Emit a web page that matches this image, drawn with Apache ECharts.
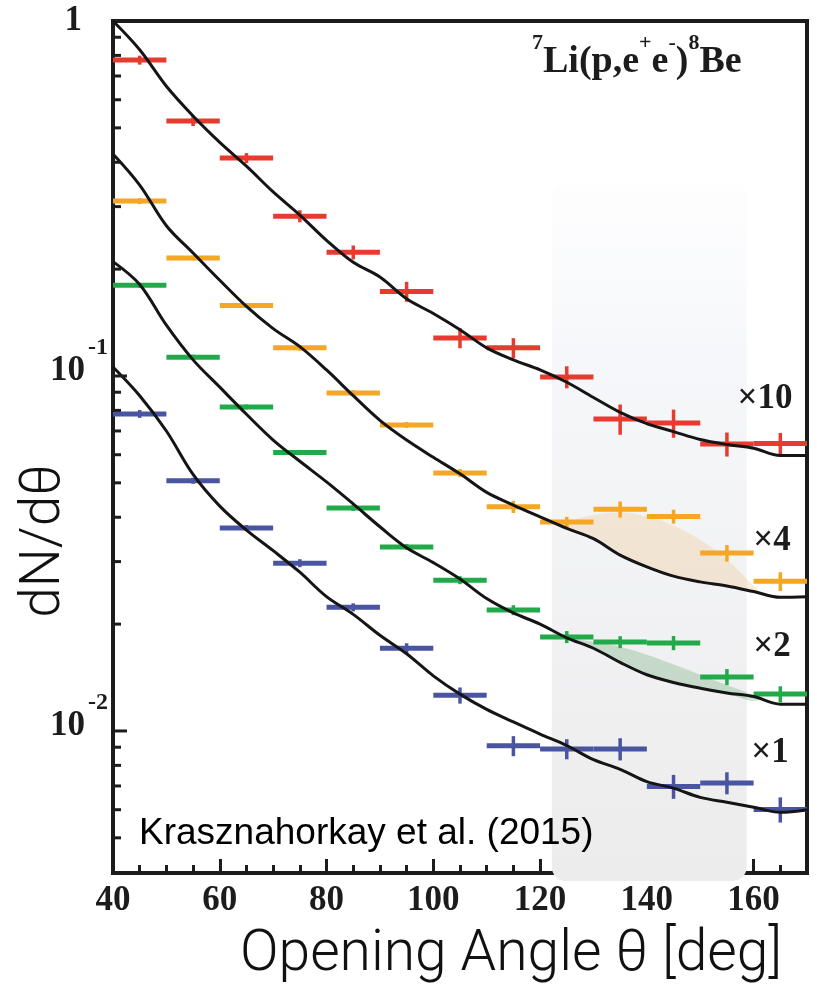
<!DOCTYPE html>
<html>
<head>
<meta charset="utf-8">
<script src="https://cdn.jsdelivr.net/npm/echarts@6/dist/echarts.min.js"></script>
<style>
html, body { margin: 0; padding: 0; background: #fff; }
#chart { width: 817px; height: 985px; }
</style>
</head>
<body>
<div id="chart"></div>
<script>
// bins (deg) and measured points, already scaled x10 / x4 / x2 / x1
var binCenters = [45, 55, 65, 75, 85, 95, 105, 115, 125, 135, 145, 155, 165];
var binHalfWidth = 5;

var redVals = [0.776, 0.523, 0.411, 0.282, 0.223, 0.173, 0.128, 0.120, 0.0994, 0.0757, 0.0737, 0.0643, 0.0645];
var redErr = [0.0227, 0.017, 0.0134, 0.011, 0.0101, 0.0112, 0.0083, 0.0078, 0.0071, 0.0074, 0.0067, 0.005, 0.0046];
var orangeVals = [0.311, 0.215, 0.158, 0.120, 0.0895, 0.0728, 0.0533, 0.0428, 0.0388, 0.0421, 0.0402, 0.0317, 0.0264];
var orangeErr = [0.0061, 0.0035, 0.0026, 0.0023, 0.0017, 0.0014, 0.0014, 0.0017, 0.0013, 0.0022, 0.0018, 0.0017, 0.0016];
var greenVals = [0.180, 0.113, 0.0818, 0.0609, 0.0425, 0.0330, 0.0266, 0.0219, 0.0184, 0.0178, 0.0177, 0.0142, 0.0127];
var greenErr = [0.0029, 0.0018, 0.0013, 0.001, 0.00083, 0.00064, 0.00069, 0.00071, 0.00072, 0.00069, 0.00081, 0.00074, 0.00066];
var blueVals = [0.0782, 0.0507, 0.0373, 0.0297, 0.0223, 0.0171, 0.0126, 0.00908, 0.0089, 0.0089, 0.00698, 0.00714, 0.00601];
var blueErr = [0.002, 0.001, 0.00073, 0.00077, 0.00058, 0.00056, 0.00066, 0.00059, 0.00058, 0.00064, 0.00054, 0.00051, 0.00049];

// simulation curves
var curveX = [40, 45, 50, 55, 60, 65, 70, 75, 80, 85, 90, 95, 100, 105, 110, 115, 120, 125, 130, 135, 140, 145, 150, 155, 160, 165, 170];
var redCurve = [1.0, 0.83, 0.655, 0.54, 0.455, 0.39, 0.33, 0.284, 0.241, 0.209, 0.19, 0.165, 0.150, 0.135, 0.120, 0.111, 0.104, 0.096, 0.087, 0.079, 0.0734, 0.0697, 0.0662, 0.0641, 0.0626, 0.0597, 0.0597];
var orangeCurve = [0.422, 0.345, 0.265, 0.222, 0.186, 0.157, 0.136, 0.121, 0.104, 0.088, 0.075, 0.066, 0.059, 0.053, 0.047, 0.0433, 0.0401, 0.0372, 0.0348, 0.0313, 0.029, 0.0273, 0.0263, 0.0256, 0.0247, 0.0238, 0.0239];
var greenCurve = [0.21, 0.181, 0.139, 0.111, 0.093, 0.078, 0.066, 0.0575, 0.0503, 0.0436, 0.0376, 0.0328, 0.0298, 0.0268, 0.0236, 0.0215, 0.0200, 0.0183, 0.0171, 0.0156, 0.0144, 0.0137, 0.0132, 0.0128, 0.0125, 0.0119, 0.0119];
var blueCurve = [0.106, 0.088, 0.070, 0.0528, 0.043, 0.0368, 0.0322, 0.028, 0.0239, 0.0213, 0.0186, 0.0165, 0.0143, 0.0127, 0.0115, 0.0106, 0.0098, 0.0091, 0.0083, 0.0078, 0.0072, 0.0069, 0.0065, 0.0063, 0.0061, 0.0059, 0.006];

// excess regions (shaded)
var blobX = [124, 128, 132, 136, 140, 144, 148, 152, 156, 159, 161];
var orangeBlobHi = [0.0378, 0.0400, 0.0410, 0.0412, 0.0402, 0.0385, 0.0360, 0.0330, 0.0295, 0.0265, 0.0248];
var orangeBlobLo = [0.0375, 0.0360, 0.0335, 0.0308, 0.0290, 0.0276, 0.0266, 0.0260, 0.0254, 0.0249, 0.0245];
var greenBlobHi = [0.0185, 0.0180, 0.0177, 0.0171, 0.0164, 0.0156, 0.0148, 0.0140, 0.0133, 0.0128, 0.0124];
var greenBlobLo = [0.0186, 0.0176, 0.0165, 0.0154, 0.0144, 0.0138, 0.0134, 0.0130, 0.0126, 0.0122, 0.0122];

// grey signal band
var bandX = [122.2, 158.7];
var bandTop = 0.35;

var yMin = 0.00398, yMax = 1;
var yTickValues = [0.005, 0.006, 0.007, 0.008, 0.009, 0.01, 0.02, 0.03, 0.04, 0.05, 0.06, 0.07, 0.08, 0.09,
  0.1, 0.2, 0.3, 0.4, 0.5, 0.6, 0.7, 0.8, 0.9];

var serif = 'Liberation Serif';
var sans = 'Liberation Sans';
var ink = '#1c1c1c';

var myChart = echarts.init(document.getElementById('chart'));

function crossSeries(vals, errs, color) {
  return {
    type: 'custom',
    z: 3,
    clip: false,
    data: binCenters.map(function (x, i) { return [x, vals[i], errs[i]]; }),
    renderItem: function (params, api) {
      var x = api.value(0), y = api.value(1), e = api.value(2);
      var a = api.coord([x - binHalfWidth, y]);
      var b = api.coord([x + binHalfWidth, y]);
      var t = api.coord([x, y + e]);
      var u = api.coord([x, y - e]);
      return {
        type: 'group',
        children: [
          { type: 'line', shape: { x1: a[0], y1: a[1], x2: b[0], y2: b[1] }, style: { stroke: color, lineWidth: 5 } },
          { type: 'line', shape: { x1: t[0], y1: t[1], x2: u[0], y2: u[1] }, style: { stroke: color, lineWidth: 3.5 } }
        ]
      };
    }
  };
}

function blobSeries(hi, lo, color) {
  return {
    type: 'custom',
    z: 2,
    silent: true,
    data: [[blobX[0], lo[0]]],
    renderItem: function (params, api) {
      var pts = [];
      for (var i = 0; i < blobX.length; i++) pts.push(api.coord([blobX[i], hi[i]]));
      for (var j = blobX.length - 1; j >= 0; j--) pts.push(api.coord([blobX[j], lo[j]]));
      return { type: 'polygon', shape: { points: pts, smooth: 0.35 }, style: { fill: color } };
    }
  };
}

function curveSeries(vals) {
  return {
    type: 'line',
    z: 4,
    smooth: 0.35,
    symbol: 'none',
    silent: true,
    lineStyle: { color: '#151515', width: 3 },
    data: curveX.map(function (x, i) { return [x, vals[i]]; })
  };
}

function factorLabel(txt, x, y) {
  return {
    type: 'text', x: x, y: y, z: 10,
    style: { text: txt, fontFamily: serif, fontWeight: 'bold', fontSize: 35, fill: ink, align: 'center', verticalAlign: 'middle' }
  };
}

var option = {
  animation: false,
  backgroundColor: '#fff',
  grid: {
    left: 113, right: 10, top: 21, bottom: 112,
    show: true, borderColor: ink, borderWidth: 4, backgroundColor: 'transparent'
  },
  xAxis: {
    type: 'value',
    min: 40, max: 170, interval: 20,
    axisLine: { lineStyle: { color: ink, width: 4 } },
    axisTick: { inside: true, length: 14, lineStyle: { color: ink, width: 3 } },
    minorTick: { show: true, splitNumber: 4, length: 8, lineStyle: { color: ink, width: 3 } },
    splitLine: { show: false },
    axisLabel: {
      margin: 10,
      color: ink, fontFamily: serif, fontWeight: 'bold', fontSize: 35,
      formatter: function (v) { return v === 170 ? '' : String(v); }
    }
  },
  yAxis: {
    type: 'log', logBase: 10,
    min: yMin, max: yMax,
    axisLine: { lineStyle: { color: ink, width: 4 } },
    axisTick: { show: false },
    splitLine: { show: false },
    axisLabel: {
      margin: 5,
      showMinLabel: true, showMaxLabel: true,
      formatter: function (v) {
        var p = Math.log(v) / Math.LN10;
        if (Math.abs(p - Math.round(p)) > 1e-6) return '';
        p = Math.round(p);
        if (p === 0) return '{one|1}{sp|}';
        return '{b|10}{sup|' + p + '}';
      },
      rich: {
        one: { fontFamily: serif, fontWeight: 'bold', fontSize: 35, color: ink, lineHeight: 34 },
        b: { fontFamily: serif, fontWeight: 'bold', fontSize: 35, color: ink, lineHeight: 32, padding: [19, 0, 29, 0] },
        sup: { fontFamily: serif, fontWeight: 'bold', fontSize: 24, color: ink, lineHeight: 24, padding: [0, 0, 56, 3] },
        sp: { width: 26 }
      }
    }
  },
  graphic: [
    {
      type: 'text', left: 532, top: 31, z: 10,
      style: {
        text: '{sup|7}{m|Li(p,e}{sup|+}{m|e}{sup|-}{m|)}{sup|8}{m|Be}',
        rich: {
          m: { fontFamily: serif, fontWeight: 'bold', fontSize: 38, fill: ink, lineHeight: 38, padding: [12, 0, 5, 0] },
          sup: { fontFamily: serif, fontWeight: 'bold', fontSize: 22, fill: ink, lineHeight: 22, padding: [1, 0, 32, 0] }
        }
      }
    },
    factorLabel('×10', 765, 399),
    factorLabel('×4', 772, 541),
    factorLabel('×2', 772, 647),
    factorLabel('×1', 770, 753),
    { type: 'text', x: 139, y: 834, z: 10, style: { text: 'Krasznahorkay et al. (2015)', fontFamily: sans, fontSize: 37, fill: '#000', align: 'left', verticalAlign: 'middle' } },
    { type: 'text', x: 511, y: 956, z: 10, style: { text: 'Opening Angle θ [deg]', fontFamily: 'Roboto', fontWeight: 300, fontSize: 57, fill: '#111', align: 'center', verticalAlign: 'middle' } },
    { type: 'text', x: 45, y: 541, rotation: Math.PI / 2, z: 10, style: { text: 'dN/dθ', fontFamily: 'Roboto', fontWeight: 300, fontSize: 55, fill: '#111', align: 'center', verticalAlign: 'middle' } }
  ],
  series: [
    {
      // shaded signal region
      type: 'custom',
      z: 1,
      silent: true,
      clip: false,
      data: [[bandX[0], bandTop]],
      renderItem: function (params, api) {
        var tl = api.coord([bandX[0], bandTop]);
        var br = api.coord([bandX[1], yMin]);
        return {
          type: 'rect',
          shape: { x: tl[0], y: tl[1], width: br[0] - tl[0], height: br[1] - tl[1] + 8, r: 14 },
          style: {
            fill: new echarts.graphic.LinearGradient(0, 0, 0, 1, [
              { offset: 0, color: 'rgba(248,249,252,0.2)' },
              { offset: 0.25, color: '#f6f7fa' },
              { offset: 1, color: '#ececec' }
            ])
          }
        };
      }
    },
    blobSeries(orangeBlobHi, orangeBlobLo, 'rgba(240,200,150,0.35)'),
    blobSeries(greenBlobHi, greenBlobLo, 'rgba(120,175,125,0.35)'),
    crossSeries(redVals, redErr, '#e63b2e'),
    crossSeries(orangeVals, orangeErr, '#f5a623'),
    crossSeries(greenVals, greenErr, '#22aa4a'),
    crossSeries(blueVals, blueErr, '#4a55a2'),
    curveSeries(redCurve),
    curveSeries(orangeCurve),
    curveSeries(greenCurve),
    curveSeries(blueCurve),
    {
      // y-axis log ticks (major and minor)
      type: 'custom',
      z: 6,
      silent: true,
      clip: false,
      data: yTickValues.map(function (v) { return [40, v]; }),
      renderItem: function (params, api) {
        var v = api.value(1);
        var p = api.coord([40, v]);
        var lg = Math.log(v) / Math.LN10;
        var major = Math.abs(lg - Math.round(lg)) < 1e-6;
        return {
          type: 'line',
          shape: { x1: p[0], y1: p[1], x2: p[0] + (major ? 14 : 8), y2: p[1] },
          style: { stroke: ink, lineWidth: 3 }
        };
      }
    }
  ]
};

myChart.setOption(option);
</script>
</body>
</html>
